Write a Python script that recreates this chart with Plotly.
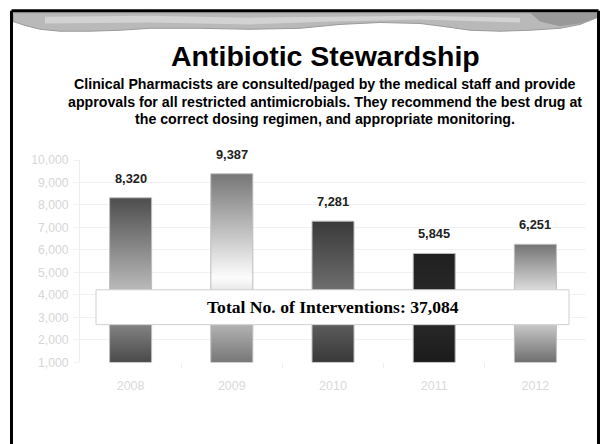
import plotly.graph_objects as go

# Annual pharmacist interventions
years = ["2008", "2009", "2010", "2011", "2012"]
interventions = [8320, 9387, 7281, 5845, 6251]
total_label = "Total No. of Interventions: 37,084"

# Vertical shading per bar (bottom -> top)
bar_shades = [
    [[0, "#4a4a4a"], [0.45, "#b8b8b8"], [1, "#4d4d4d"]],
    [[0, "#777777"], [0.45, "#fcfcfc"], [1, "#767676"]],
    [[0, "#383838"], [0.45, "#747474"], [1, "#3a3a3a"]],
    [[0, "#1b1b1b"], [0.45, "#2c2c2c"], [1, "#202020"]],
    [[0, "#6e6e6e"], [0.5, "#fafafa"], [1, "#747474"]],
]

W, H = 602, 444
Y_MIN, Y_MAX = 1000, 10000
BAR_W = 0.415
SANS = "Liberation Sans, Arial, sans-serif"


def px(x):
    return x / W


def py(y):
    return 1 - y / H


fig = go.Figure()

for i, (v, shade) in enumerate(zip(interventions, bar_shades)):
    x0, x1 = i - BAR_W / 2, i + BAR_W / 2
    fig.add_trace(go.Scatter(
        x=[x0, x1, x1, x0, x0],
        y=[Y_MIN, Y_MIN, v, v, Y_MIN],
        mode="lines",
        fill="toself",
        fillgradient=dict(type="vertical", colorscale=shade),
        line=dict(color="#bdbdbd", width=1),
        hoverinfo="skip",
        showlegend=False,
    ))
    fig.add_annotation(
        x=i, y=v, xref="x", yref="y",
        text=f"<b>{v:,}</b>", showarrow=False,
        yanchor="bottom", yshift=10,
        font=dict(family=SANS, size=12.8, color="#222222"),
    )

# Category boundary ticks under the axis
boundaries = [i + 0.5 for i in range(len(years) - 1)]

fig.update_xaxes(
    range=[-0.5, len(years) - 0.5],
    tickvals=list(range(len(years))),
    ticktext=years,
    showgrid=False, zeroline=False,
    showline=False,
    ticks="",
    ticklabelstandoff=14,
    tickfont=dict(family=SANS, size=12.5, color="#dadada"),
    minor=dict(tickvals=boundaries, ticks="outside", ticklen=5, tickcolor="#eeeeee", showgrid=False),
    domain=[px(80), px(586)],
    fixedrange=True,
)
fig.update_yaxes(
    range=[Y_MIN, Y_MAX],
    dtick=1000,
    tick0=0,
    tickformat=",d",
    showgrid=True, gridcolor="#f1f1f1", gridwidth=1,
    zeroline=False,
    showline=True, linecolor="#eeeeee",
    ticks="outside", ticklen=5, tickcolor="#f1f1f1",
    ticklabelstandoff=3,
    tickfont=dict(family=SANS, size=12.2, color="#d6d6d6"),
    domain=[py(367), py(158)],
    fixedrange=True,
)

shapes = []

# Decorative band along the top edge
swoosh_bottom = [(13, 15), (25, 19), (40, 23), (60, 25), (90, 25), (120, 24), (150, 22),
                 (200, 22), (250, 23), (300, 22), (340, 18), (380, 16), (420, 17),
                 (450, 21), (470, 24), (500, 25), (530, 24), (560, 22), (580, 18), (597, 11)]
path = f"M {px(13)},{py(6)} L {px(597)},{py(6)} "
for (x, y) in reversed(swoosh_bottom):
    path += f"L {px(x)},{py(y)} "
path += "Z"
shapes.append(dict(type="path", path=path, xref="paper", yref="paper",
                   fillcolor="#b9b9b9", line=dict(color="#9a9a9a", width=1), layer="below"))

light = [(45, 10), (150, 9), (250, 11), (330, 10), (420, 9), (520, 11),
         (520, 16), (420, 13), (330, 15), (250, 18), (150, 16), (45, 17)]
lp = "M " + " L ".join(f"{px(x)},{py(y)}" for x, y in light) + " Z"
shapes.append(dict(type="path", path=lp, xref="paper", yref="paper",
                   fillcolor="#d2d2d2", line=dict(width=0), layer="below"))

dark = [(530, 6), (597, 6), (597, 11), (580, 17), (560, 20), (540, 15)]
dp = "M " + " L ".join(f"{px(x)},{py(y)}" for x, y in dark) + " Z"
shapes.append(dict(type="path", path=dp, xref="paper", yref="paper",
                   fillcolor="#999999", line=dict(width=0), layer="below"))

# Slide frame (open at the bottom)
frame = dict(xref="paper", yref="paper", line=dict(color="black", width=3))
shapes.append(dict(type="line", x0=px(11.5), x1=px(11.5), y0=py(4), y1=-0.02, **frame))
shapes.append(dict(type="line", x0=px(598.5), x1=px(598.5), y0=py(4), y1=-0.02, **frame))
shapes.append(dict(type="line", x0=px(11.5), x1=px(598.5), y0=py(4), y1=py(4), **frame))

# Summary box
shapes.append(dict(type="rect", xref="paper", yref="paper",
                   x0=px(96), x1=px(569), y0=py(328), y1=py(292),
                   line=dict(color="#cfcfcf", width=1), fillcolor="white", layer="above"))

fig.update_layout(shapes=shapes)

fig.add_annotation(
    x=px(332.5), y=py(310), xref="paper", yref="paper",
    text=f"<b>{total_label}</b>", showarrow=False,
    xanchor="center", yanchor="middle",
    font=dict(family="Liberation Serif, Times New Roman, serif", size=17.6, color="black"),
)

# Slide heading and description
fig.add_annotation(
    x=px(325), y=py(69), xref="paper", yref="paper",
    text="<b>Antibiotic Stewardship</b>", showarrow=False,
    xanchor="center", yanchor="bottom",
    font=dict(family=SANS, size=28.5, color="black"),
)
subtitle_lines = [
    "Clinical Pharmacists are consulted/paged by the medical staff and provide",
    "approvals for all restricted antimicrobials. They recommend the best drug at",
    "the correct dosing regimen, and appropriate monitoring.",
]
for k, line in enumerate(subtitle_lines):
    fig.add_annotation(
        x=px(324.5), y=py(80 + 18 * k), xref="paper", yref="paper",
        text=f"<b>{line}</b>", showarrow=False,
        xanchor="center", yanchor="middle",
        font=dict(family=SANS, size=14.2, color="black"),
    )

fig.update_layout(
    width=W, height=H,
    margin=dict(l=0, r=0, t=0, b=0),
    paper_bgcolor="white",
    plot_bgcolor="white",
    showlegend=False,
)

fig.write_html("out.html", config={"displayModeBar": False})
